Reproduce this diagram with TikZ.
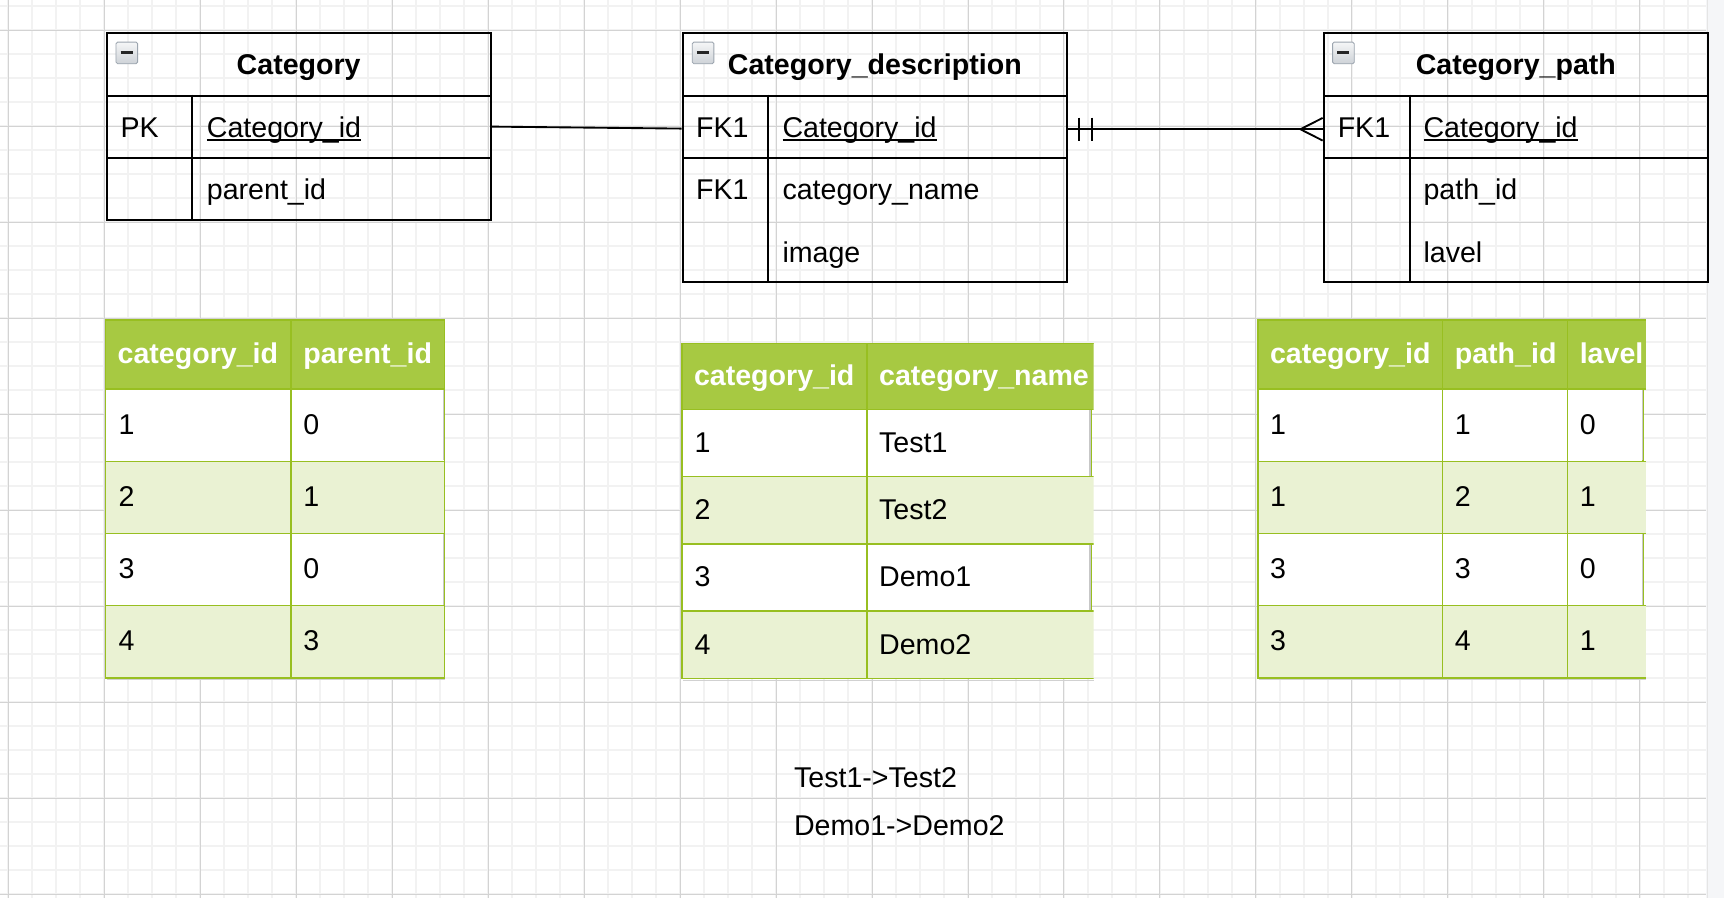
\documentclass[tikz,border=0pt]{standalone}
\usepackage{fontspec}
\setmainfont{Liberation Sans}
\usepackage{tikz}
\usepackage{xcolor}

\definecolor{headgreen}{HTML}{A7C942}
\definecolor{rowgreen}{HTML}{EAF2D3}
\definecolor{tblline}{HTML}{98BF21}
\definecolor{gridminor}{HTML}{F2F2F2}
\definecolor{gridmajor}{HTML}{D3D3D3}
\definecolor{iconedge}{HTML}{9CA5AF}
\definecolor{stripgrey}{HTML}{F5F6F8}

% underlined key field, line close to the baseline
\newcommand{\keyfield}[1]{\setbox0\hbox{#1}\rlap{\rule[-3.2pt]{\wd0}{1.5pt}}\box0}

% small collapse box in the table header
\newcommand{\foldicon}[2]{%
  \shade[top color=white!90!iconedge, bottom color=white!50!iconedge, draw=iconedge, line width=0.8pt, rounded corners=1.5pt] (#1,#2) rectangle ++(19.7,19.7);
  \draw[line width=2.6pt, black!85] ({#1+4.3},{#2+9.8}) -- ++(11,0);
}

\tikzset{
  every node/.style={font=\fontsize{26}{31}\selectfont},
  erpart/.style={draw, line width=1.8pt, anchor=north west, inner sep=0pt, minimum width=349.5pt},
  ertitle/.style={font=\fontsize{26}{31}\selectfont\bfseries, text height=18.7pt, text depth=0pt},
  fieldtext/.style={anchor=west, inner sep=0pt, text height=18.7pt, text depth=0pt},
  headtext/.style={fieldtext, text=white, font=\fontsize{26}{31}\selectfont\bfseries},
  tblcell/.style={draw=tblline, line width=1.5pt},
  whiteedge/.style={draw=black!22, line width=1.5pt},
  relation/.style={line width=1.7pt},
}

\begin{document}
\begin{tikzpicture}[x=1pt, y=-1pt]
        \useasboundingbox (0,0) rectangle (1568,817);
        \fill[white] (0,0) rectangle (1568,817);

        % Grid
        \begin{scope}
            \clip (0,0) rectangle (1552,817);
            \foreach \i in {0,...,71} \draw[gridminor, line width=1.8pt] ({7.4+(\i-1)*21.825},0) -- ++(0,817);
            \foreach \j in {-2,...,37} \draw[gridminor, line width=1.8pt] (0,{27.6+\j*21.825}) -- ++(1552,0);
            \foreach \i in {0,...,17} \draw[gridmajor, line width=0.9pt] ({7.4+\i*87.3},0) -- ++(0,817);
            \foreach \j in {0,...,9} \draw[gridmajor, line width=0.9pt] (0,{27.6+\j*87.3}) -- ++(1552,0);
        \end{scope}
        \fill[stripgrey] (1552,0) rectangle (1568,817);
        \draw[black!10, line width=0.8pt] (1553,0) -- (1553,817);

        % Category
        \node[erpart, ertitle, minimum height=57pt] (cat) at (96,29) {Category};
        \node[erpart, minimum height=56.5pt] (catpk) at (96,86) {};
        \node[erpart, minimum height=57pt] (catrest) at (96,142.5) {};
        \draw[line width=1.8pt] (175,86) -- (175,199.5);
        \foldicon{105.5}{38.3}
        \node[fieldtext] (catpk-key) at (109.5,115.3) {PK};
        \node[fieldtext] (catpk-name) at (188,115.3) {\keyfield{Category\_id}};
        \node[fieldtext] (catparent) at (188,172) {parent\_id};

        % Category_description
        \node[erpart, ertitle, minimum height=57pt] (desc) at (620,29) {Category\_description};
        \node[erpart, minimum height=56.5pt] (descfk) at (620,86) {};
        \node[erpart, minimum height=113.5pt] (descrest) at (620,142.5) {};
        \draw[line width=1.8pt] (698.5,86) -- (698.5,256);
        \foldicon{629.6}{38.3}
        \node[fieldtext] (descfk-key) at (633,115.3) {FK1};
        \node[fieldtext] (descfk-name) at (711.5,115.3) {\keyfield{Category\_id}};
        \node[fieldtext] (descname-key) at (633,172) {FK1};
        \node[fieldtext] (descname) at (711.5,172) {category\_name};
        \node[fieldtext] (descimage) at (711.5,229) {image};

        % Category_path
        \node[erpart, ertitle, minimum height=57pt] (path) at (1203,29) {Category\_path};
        \node[erpart, minimum height=56.5pt] (pathfk) at (1203,86) {};
        \node[erpart, minimum height=113.5pt] (pathrest) at (1203,142.5) {};
        \draw[line width=1.8pt] (1282,86) -- (1282,256);
        \foldicon{1212}{38.3}
        \node[fieldtext] (pathfk-key) at (1216.5,115.3) {FK1};
        \node[fieldtext] (pathfk-name) at (1294.5,115.3) {\keyfield{Category\_id}};
        \node[fieldtext] (pathid) at (1294.5,172) {path\_id};
        \node[fieldtext] (pathlevel) at (1294.5,229) {lavel};

        % Relations
        \draw[relation] (catpk.east) -- ([yshift=-1.8pt]descfk.west);
        \draw[relation] ([yshift=-2.4pt]descfk.east) -- ([yshift=-2.4pt]pathfk.west);
        \draw[relation] ([xshift=10.3pt,yshift=-2.4pt]descfk.east) ++(0,-10.6) -- ++(0,21.2);
        \draw[relation] ([xshift=21.6pt,yshift=-2.4pt]descfk.east) ++(0,-10.6) -- ++(0,21.2);
        \draw[relation] ([xshift=-20.3pt,yshift=-2.4pt]pathfk.west) -- ++(20.3,-10.3)
            ([xshift=-20.3pt,yshift=-2.4pt]pathfk.west) -- ++(20.3,10.3);

        % category data
        \draw[tblcell, fill=headgreen] (95.8,291) rectangle (264.7,354);
        \draw[tblcell, fill=headgreen] (264.7,291) rectangle (404.4,354);
        \node[headtext] (t1-id) at (106.8,321.5) {category\_id};
        \node[headtext] (t1-parent) at (275.7,321.5) {parent\_id};
        \foreach \a/\b/\c [count=\i] in {1/0/white, 2/1/rowgreen, 3/0/white, 4/3/rowgreen}{
            \draw[tblcell, fill=\c] (95.8,{354+(\i-1)*65.6}) rectangle (264.7,{354+\i*65.6});
            \draw[tblcell, fill=\c] (264.7,{354+(\i-1)*65.6}) rectangle (404.4,{354+\i*65.6});
            \node[fieldtext] (t1-\i-id) at (107.8,{354+(\i-0.5)*65.6-1}) {\a};
            \node[fieldtext] (t1-\i-parent) at (275.7,{354+(\i-0.5)*65.6-1}) {\b};
        }
        \foreach \i in {1,3} \draw[whiteedge] (403.4,{354+(\i-1)*65.6+0.8}) -- ++(0,64);
        \draw[black!18, line width=1.2pt] (97,618) -- (405,618);

        % category_description data
        \begin{scope}
            \clip (600,300) rectangle (994.6,640);
            \draw[tblcell, fill=headgreen] (620.1,312.3) rectangle (788.4,372.3);
            \draw[tblcell, fill=headgreen] (788.4,312.3) rectangle (1000,372.3);
            \foreach \c/\e [count=\i] in {white/992.2, rowgreen/1000, white/992.2, rowgreen/1000}{
                \draw[tblcell, fill=\c] (620.1,{372.3+(\i-1)*61.2}) rectangle (788.4,{372.3+\i*61.2});
                \draw[tblcell, fill=\c] (788.4,{372.3+(\i-1)*61.2}) rectangle (\e,{372.3+\i*61.2});
            }
        \end{scope}
        \node[headtext] (t2-id) at (631,341) {category\_id};
        \node[headtext] (t2-name) at (799.4,341) {category\_name};
        \foreach \a/\b [count=\i] in {1/Test1, 2/Test2, 3/Demo1, 4/Demo2}{
            \node[fieldtext] (t2-\i-id) at (631.5,{372.3+(\i-0.5)*61.2-1}) {\a};
            \node[fieldtext] (t2-\i-name) at (799.4,{372.3+(\i-0.5)*61.2-1}) {\b};
        }
        \foreach \i in {1,3} \draw[whiteedge] (991.6,{372.3+(\i-1)*61.2+0.8}) -- ++(0,59.6);
        \draw[black!18, line width=1.2pt] (621,618.8) -- (994.6,618.8);

        % category_path data
        \begin{scope}
            \clip (1120,280) rectangle (1497,640);
            \draw[tblcell, fill=headgreen] (1143.9,291) rectangle (1312,354);
            \draw[tblcell, fill=headgreen] (1312,291) rectangle (1425.8,354);
            \draw[tblcell, fill=headgreen] (1425.8,291) rectangle (1505,354);
            \foreach \c/\e [count=\i] in {white/1494.5, rowgreen/1505, white/1494.5, rowgreen/1505}{
                \draw[tblcell, fill=\c] (1143.9,{354+(\i-1)*65.6}) rectangle (1312,{354+\i*65.6});
                \draw[tblcell, fill=\c] (1312,{354+(\i-1)*65.6}) rectangle (1425.8,{354+\i*65.6});
                \draw[tblcell, fill=\c] (1425.8,{354+(\i-1)*65.6}) rectangle (\e,{354+\i*65.6});
            }
        \end{scope}
        \node[headtext] (t3-id) at (1154.9,321.5) {category\_id};
        \node[headtext] (t3-path) at (1323,321.5) {path\_id};
        \node[headtext] (t3-level) at (1436.6,321.5) {lavel};
        \foreach \a/\b/\c [count=\i] in {1/1/0, 1/2/1, 3/3/0, 3/4/1}{
            \node[fieldtext] (t3-\i-id) at (1155,{354+(\i-0.5)*65.6-1}) {\a};
            \node[fieldtext] (t3-\i-path) at (1323,{354+(\i-0.5)*65.6-1}) {\b};
            \node[fieldtext] (t3-\i-level) at (1436.8,{354+(\i-0.5)*65.6-1}) {\c};
        }
        \foreach \i in {1,3} \draw[whiteedge] (1493.9,{354+(\i-1)*65.6+0.8}) -- ++(0,64);
        \draw[black!18, line width=1.2pt] (1145,618) -- (1497,618);

        % Example paths
        \node[fieldtext] (chain1) at (722,706.7) {Test1->Test2};
        \node[fieldtext] (chain2) at (722,750.4) {Demo1->Demo2};
    \end{tikzpicture}
\end{document}
